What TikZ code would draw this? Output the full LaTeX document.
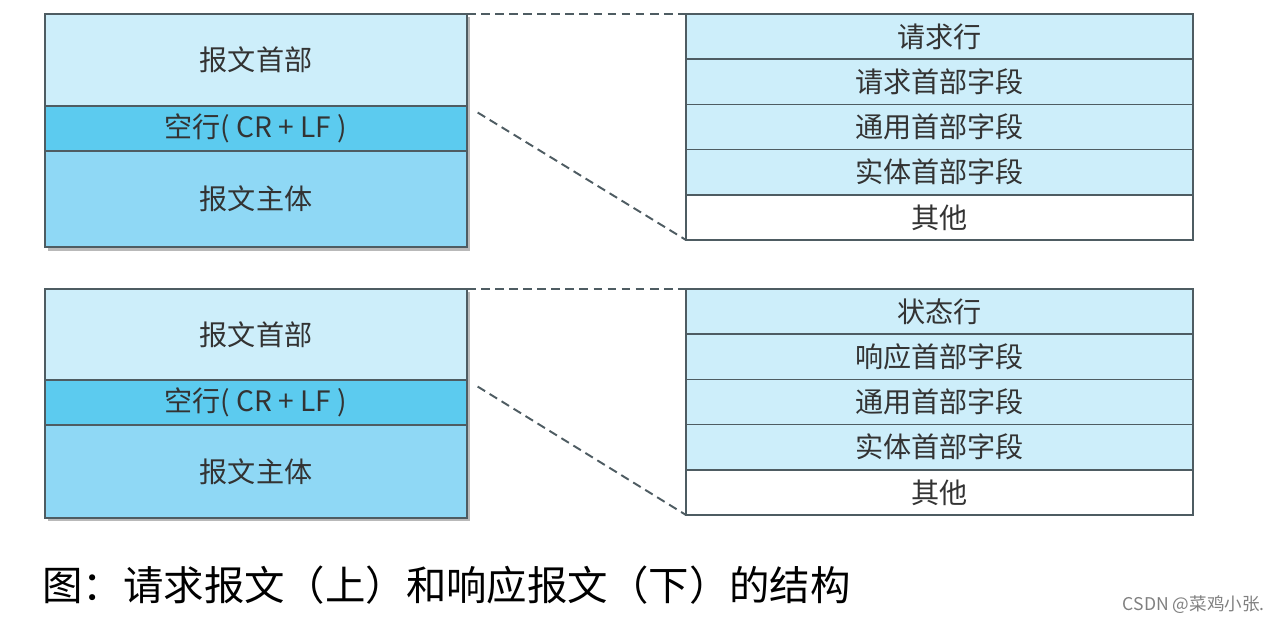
\documentclass[tikz,border=0pt]{standalone}
\usepackage{fontspec}
\setmainfont{Noto Sans CJK SC}
\usetikzlibrary{positioning}

\definecolor{hdrblue}{HTML}{CDEEFA}
\definecolor{gapblue}{HTML}{5CCBEF}
\definecolor{bodyblue}{HTML}{8FD8F5}
\definecolor{edgegray}{HTML}{4E5C62}
\definecolor{txtgray}{HTML}{333333}

\tikzset{
  part/.style={draw=edgegray, line width=0.8pt, text=txtgray, inner sep=0pt, outer sep=0pt,
    minimum width=8.44cm, font=\fontsize{16}{18}\selectfont},
  hdrpart/.style={part, fill=hdrblue, minimum height=1.84cm},
  gappart/.style={part, fill=gapblue, minimum height=0.90cm},
  bodypart/.style={part, fill=bodyblue, minimum height=1.92cm},
  field/.style={draw=edgegray, line width=0.8pt, text=txtgray, inner sep=0pt, outer sep=0pt,
    minimum width=10.14cm, minimum height=0.904cm, fill=hdrblue, font=\fontsize{16}{18}\selectfont},
  otherfield/.style={field, fill=white},
  zoomline/.style={dashed, dash pattern=on 5pt off 3pt, line width=1.1pt, edgegray}
}

\begin{document}
\begin{tikzpicture}

  \useasboundingbox (0,0) rectangle (25.6,-12.48);

  % request message
  \fill[gray!55](0.96,-0.34)rectangle(9.40,-5.02);
  \node[hdrpart, anchor=north west] (hdrA) at (0.90,-0.28) {报文首部};
  \node[gappart, below=0pt of hdrA] (gapA) {空行( CR + LF )};
  \node[bodypart, below=0pt of gapA] (bodyA) {报文主体};

  \node[field, anchor=north west] (lineA) at (13.72,-0.28) {请求行};
  \node[field, below=0pt of lineA] (reqA) {请求首部字段};
  \node[field, below=0pt of reqA] (genA) {通用首部字段};
  \node[field, below=0pt of genA] (entA) {实体首部字段};
  \node[otherfield, below=0pt of entA] (etcA) {其他};

  \draw[zoomline] (hdrA.north east) -- (lineA.north west);
  \draw[zoomline, shorten <=0.25cm] (gapA.north east) -- (etcA.south west);

  % response message
  \fill[gray!55](0.96,-5.84)rectangle(9.40,-10.42);
  \node[hdrpart, anchor=north west, minimum height=1.82cm] (hdrB) at (0.90,-5.78) {报文首部};
  \node[gappart, below=0pt of hdrB] (gapB) {空行( CR + LF )};
  \node[bodypart, below=0pt of gapB, minimum height=1.86cm] (bodyB) {报文主体};

  \node[field, anchor=north west] (lineB) at (13.72,-5.78) {状态行};
  \node[field, below=0pt of lineB] (resB) {响应首部字段};
  \node[field, below=0pt of resB] (genB) {通用首部字段};
  \node[field, below=0pt of genB] (entB) {实体首部字段};
  \node[otherfield, below=0pt of entB] (etcB) {其他};

  \draw[zoomline] (hdrB.north east) -- (lineB.north west);
  \draw[zoomline, shorten <=0.25cm] (gapB.north east) -- (etcB.south west);

  % caption
  \node[anchor=west, inner sep=0pt, font=\fontsize{23}{26}\selectfont] (caption) at (0.84,-11.70)
    {图：请求报文（上）和响应报文（下）的结构};
  \node[anchor=east, inner sep=0pt, text=gray, font=\fontsize{10}{12}\selectfont] (mark) at (25.30,-12.10)
    {CSDN @菜鸡小张.};
\end{tikzpicture}
\end{document}
